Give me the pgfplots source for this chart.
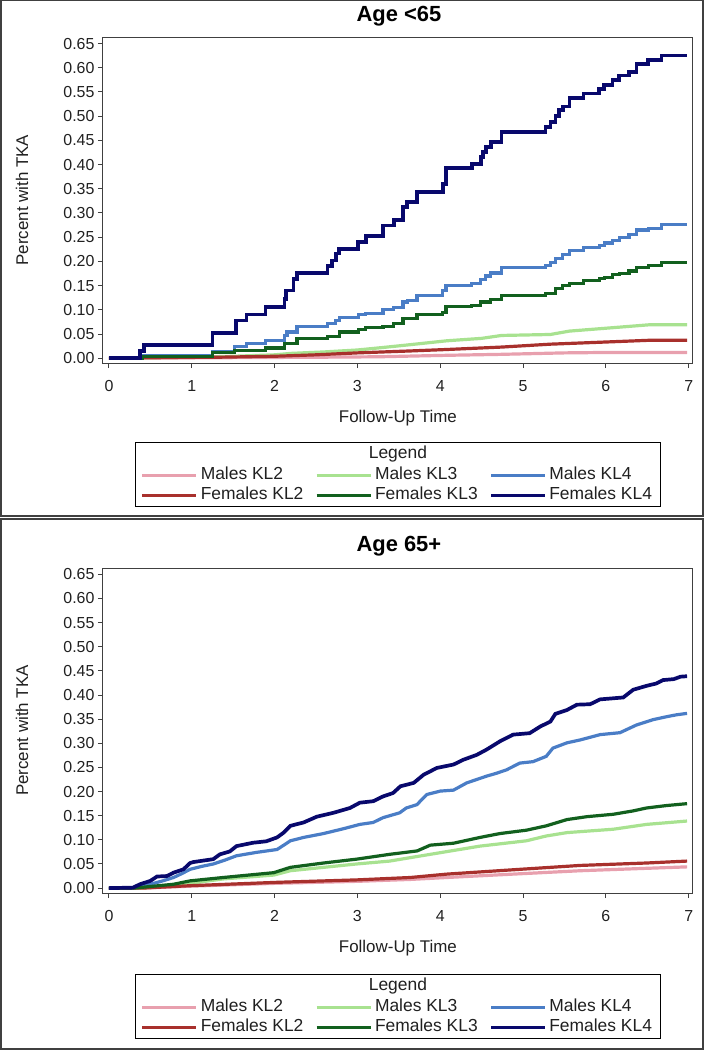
\documentclass[border=0pt]{standalone}
\usepackage{pgfplots}
\pgfplotsset{compat=1.18}
\usepackage{fontspec}
\setmainfont{Liberation Sans}
\definecolor{mkltwo}{HTML}{E8A0AE}
\definecolor{fkltwo}{HTML}{A8302C}
\definecolor{mklthree}{HTML}{A8E290}
\definecolor{fklthree}{HTML}{12601E}
\definecolor{mklfour}{HTML}{4A7DC6}
\definecolor{fklfour}{HTML}{08086C}
\definecolor{axgray}{HTML}{404040}
\definecolor{txtgray}{HTML}{202020}
\pgfplotsset{
  kl/.style={line width=3.2bp, line join=miter, line cap=butt},
  klb/.style={line width=3.7bp, line join=miter, line cap=butt},
  kmaxis/.style={
    scale only axis, width=590bp,
    xmin=-0.072, xmax=7.05, ymin=-0.0102, ymax=0.663,
    xtick={0,1,2,3,4,5,6,7},
    ytick={0,0.05,...,0.651},
    yticklabel style={/pgf/number format/fixed,/pgf/number format/fixed zerofill,/pgf/number format/precision=2},
    /pgf/number format/assume math mode=true,
    tick pos=left, tick align=outside,
    major tick length=5bp,
    every tick/.style={axgray, line width=1bp},
    axis line style={axgray, line width=1bp},
    ticklabel style={font=\fontsize{16}{19}\selectfont, text=txtgray},
    xticklabel style={yshift=-9bp},
    label style={font=\fontsize{17}{20}\selectfont, text=txtgray},
    xlabel={Follow-Up Time},
    ylabel={Percent with TKA},
    xlabel style={at={(axis description cs:0.5,-0.169)}, anchor=center},
    ylabel style={at={(axis description cs:-0.137,0.5)}, anchor=center, rotate=0},
    legend columns=3,
    legend cell align=left,
    legend image code/.code={\draw[##1, line width=2.6bp] (0bp,0bp) -- (54bp,0bp);},
    legend style={draw=none, fill=none, inner sep=0pt, anchor=north west,
      column sep=0bp,
      /tikz/every even column/.append style={column sep=9bp},
      nodes={inner xsep=3bp, inner ysep=0bp, text height=12.5bp, text depth=4.5bp, minimum height=20bp, font=\fontsize{17.5}{20}\selectfont, text=txtgray}},
  }
}
\begin{document}
\begin{tikzpicture}[x=1bp,y=1bp]
\path (0,0) rectangle (706,1050);
\draw[axgray, line width=1.5bp] (1,534) rectangle (703,1049.5);
\draw[axgray, line width=1.5bp] (1,1) rectangle (703,531);
% ---------- top panel ----------
\begin{axis}[kmaxis, at={(103bp,687bp)}, anchor=south west, height=326bp,
  legend style={at={(axis description cs:0.0644,-0.3128)}}]
\addplot[kl, mkltwo, sharp plot] coordinates {(0,0) (1.3,0.001) (2.5,0.002) (3.27,0.003) (4.08,0.006) (4.74,0.008) (5.5,0.011) (6.08,0.012) (6.98,0.012)};
\addplot[kl, mklthree, sharp plot] coordinates {(0,0) (0.5,0.001) (1.0,0.002) (1.5,0.004) (2.0,0.007) (2.2,0.010) (2.6,0.013) (3.0,0.017) (3.3,0.022) (3.64,0.028) (4.08,0.036) (4.5,0.041) (4.74,0.047) (5.33,0.049) (5.56,0.056) (6.08,0.063) (6.52,0.069) (6.98,0.069)};
\addplot[kl, mklfour, sharp plot] coordinates {(0,0) (0.41,0) (0.41,0.006) (1.25,0.006) (1.25,0.014) (1.52,0.014) (1.52,0.025) (1.66,0.025) (1.66,0.030) (1.89,0.030) (1.89,0.036) (2.12,0.036) (2.12,0.047) (2.15,0.047) (2.15,0.054) (2.27,0.054) (2.27,0.065) (2.64,0.065) (2.64,0.072) (2.74,0.072) (2.74,0.078) (2.78,0.078) (2.78,0.084) (3.01,0.084) (3.01,0.090) (3.10,0.090) (3.10,0.093) (3.31,0.093) (3.31,0.100) (3.44,0.100) (3.44,0.104) (3.55,0.104) (3.55,0.116) (3.60,0.116) (3.60,0.120) (3.72,0.120) (3.72,0.130) (4.03,0.130) (4.03,0.140) (4.07,0.140) (4.07,0.151) (4.38,0.151) (4.38,0.155) (4.49,0.155) (4.49,0.162) (4.55,0.162) (4.55,0.170) (4.61,0.170) (4.61,0.176) (4.74,0.176) (4.74,0.187) (5.27,0.187) (5.27,0.191) (5.33,0.191) (5.33,0.197) (5.39,0.197) (5.39,0.206) (5.48,0.206) (5.48,0.214) (5.56,0.214) (5.56,0.223) (5.73,0.223) (5.73,0.228) (5.92,0.228) (5.92,0.233) (5.98,0.233) (5.98,0.238) (6.08,0.238) (6.08,0.243) (6.16,0.243) (6.16,0.249) (6.28,0.249) (6.28,0.255) (6.37,0.255) (6.37,0.265) (6.51,0.265) (6.51,0.268) (6.67,0.268) (6.67,0.276) (6.98,0.276)};
\addplot[kl, fkltwo, sharp plot] coordinates {(0,0) (0.5,0.001) (1.3,0.002) (2.0,0.004) (2.5,0.007) (3.0,0.011) (3.64,0.015) (4.08,0.018) (4.74,0.023) (5.33,0.029) (6.08,0.034) (6.52,0.037) (6.98,0.037)};
\addplot[kl, fklthree, sharp plot] coordinates {(0,0) (0.41,0) (0.41,0.004) (1.25,0.004) (1.25,0.011) (1.52,0.011) (1.52,0.016) (1.89,0.016) (1.89,0.021) (2.12,0.021) (2.12,0.030) (2.27,0.030) (2.27,0.040) (2.64,0.040) (2.64,0.045) (2.78,0.045) (2.78,0.054) (3.01,0.054) (3.01,0.060) (3.10,0.060) (3.10,0.063) (3.31,0.063) (3.31,0.066) (3.44,0.066) (3.44,0.072) (3.55,0.072) (3.55,0.082) (3.72,0.082) (3.72,0.091) (4.03,0.091) (4.03,0.094) (4.07,0.094) (4.07,0.106) (4.38,0.106) (4.38,0.109) (4.49,0.109) (4.49,0.116) (4.61,0.116) (4.61,0.122) (4.74,0.122) (4.74,0.130) (5.27,0.130) (5.27,0.133) (5.39,0.133) (5.39,0.144) (5.48,0.144) (5.48,0.150) (5.56,0.150) (5.56,0.154) (5.73,0.154) (5.73,0.161) (5.92,0.161) (5.92,0.164) (5.98,0.164) (5.98,0.167) (6.08,0.167) (6.08,0.173) (6.16,0.173) (6.16,0.175) (6.28,0.175) (6.28,0.180) (6.37,0.180) (6.37,0.188) (6.51,0.188) (6.51,0.191) (6.67,0.191) (6.67,0.197) (6.98,0.197)};
\addplot[klb, fklfour, sharp plot] coordinates {(0,0) (0.375,0) (0.375,0.015) (0.42,0.015) (0.42,0.027) (1.25,0.027) (1.25,0.052) (1.53,0.052) (1.53,0.078) (1.66,0.078) (1.66,0.090) (1.89,0.090) (1.89,0.106) (2.12,0.106) (2.12,0.123) (2.14,0.123) (2.14,0.140) (2.23,0.140) (2.23,0.164) (2.27,0.164) (2.27,0.176) (2.64,0.176) (2.64,0.190) (2.69,0.190) (2.69,0.202) (2.74,0.202) (2.74,0.216) (2.78,0.216) (2.78,0.226) (3.01,0.226) (3.01,0.240) (3.10,0.240) (3.10,0.252) (3.31,0.252) (3.31,0.274) (3.44,0.274) (3.44,0.286) (3.55,0.286) (3.55,0.312) (3.60,0.312) (3.60,0.322) (3.72,0.322) (3.72,0.343) (4.03,0.343) (4.03,0.360) (4.07,0.360) (4.07,0.393) (4.38,0.393) (4.38,0.401) (4.49,0.401) (4.49,0.415) (4.52,0.415) (4.52,0.426) (4.55,0.426) (4.55,0.436) (4.61,0.436) (4.61,0.446) (4.74,0.446) (4.74,0.467) (5.27,0.467) (5.27,0.477) (5.33,0.477) (5.33,0.488) (5.39,0.488) (5.39,0.501) (5.43,0.501) (5.43,0.512) (5.48,0.512) (5.48,0.520) (5.56,0.520) (5.56,0.538) (5.73,0.538) (5.73,0.547) (5.92,0.547) (5.92,0.556) (5.98,0.556) (5.98,0.565) (6.08,0.565) (6.08,0.575) (6.16,0.575) (6.16,0.584) (6.28,0.584) (6.28,0.591) (6.37,0.591) (6.37,0.608) (6.51,0.608) (6.51,0.616) (6.67,0.616) (6.67,0.625) (6.98,0.625)};
\legend{Males KL2, Males KL3, Males KL4, Females KL2, Females KL3, Females KL4}
\end{axis}
\node[font=\bfseries\fontsize{22}{26}\selectfont, text=black] at (399,1034) {Age <65};
\draw[black, line width=1bp] (136,544) rectangle (661,608);
\node[font=\fontsize{17.5}{20}\selectfont, text=txtgray] at (398,596) {Legend};
% ---------- bottom panel ----------
\begin{axis}[kmaxis, at={(103bp,157bp)}, anchor=south west, height=325bp,
  legend style={at={(axis description cs:0.0644,-0.3200)}}]
\addplot[kl, mkltwo, sharp plot] coordinates {(0,0) (0.4,0) (0.98,0.004) (2.03,0.010) (2.99,0.014) (3.64,0.018) (4.08,0.022) (4.88,0.029) (5.69,0.036) (6.49,0.041) (6.98,0.044)};
\addplot[kl, mklthree, sharp plot] coordinates {(0,0) (0.4,0) (0.98,0.010) (1.38,0.019) (1.99,0.027) (2.19,0.036) (2.59,0.043) (2.99,0.050) (3.39,0.056) (3.88,0.070) (4.48,0.087) (5.04,0.098) (5.28,0.108) (5.53,0.115) (6.09,0.122) (6.49,0.132) (6.98,0.139)};
\addplot[kl, mklfour, sharp plot] coordinates {(0,0) (0.29,0.001) (0.40,0.004) (0.50,0.008) (0.65,0.015) (0.78,0.022) (0.88,0.030) (0.98,0.039) (1.12,0.045) (1.26,0.050) (1.40,0.058) (1.54,0.067) (1.78,0.074) (2.03,0.080) (2.12,0.090) (2.19,0.098) (2.35,0.105) (2.59,0.113) (2.83,0.123) (3.03,0.132) (3.19,0.136) (3.31,0.146) (3.51,0.156) (3.59,0.166) (3.72,0.173) (3.78,0.184) (3.84,0.194) (4.00,0.201) (4.16,0.203) (4.32,0.218) (4.44,0.225) (4.56,0.232) (4.68,0.238) (4.80,0.245) (4.96,0.259) (5.12,0.262) (5.28,0.273) (5.36,0.290) (5.53,0.301) (5.69,0.307) (5.93,0.318) (6.17,0.322) (6.37,0.338) (6.57,0.349) (6.73,0.355) (6.85,0.359) (6.98,0.362)};
\addplot[kl, fkltwo, sharp plot] coordinates {(0,0) (0.4,0) (0.98,0.005) (2.03,0.012) (2.99,0.017) (3.64,0.022) (4.08,0.029) (4.88,0.038) (5.69,0.047) (6.49,0.052) (6.98,0.056)};
\addplot[kl, fklthree, sharp plot] coordinates {(0,0) (0.3,0) (0.78,0.008) (0.98,0.015) (1.38,0.022) (1.99,0.032) (2.19,0.043) (2.59,0.052) (2.99,0.060) (3.39,0.070) (3.72,0.077) (3.88,0.089) (4.16,0.093) (4.48,0.105) (4.72,0.113) (5.04,0.120) (5.28,0.129) (5.53,0.142) (5.77,0.148) (6.09,0.153) (6.33,0.160) (6.49,0.166) (6.73,0.171) (6.98,0.175)};
\addplot[klb, fklfour, sharp plot] coordinates {(0,0) (0.29,0.001) (0.375,0.008) (0.50,0.015) (0.58,0.024) (0.70,0.025) (0.78,0.032) (0.90,0.039) (0.98,0.052) (1.02,0.054) (1.26,0.060) (1.34,0.070) (1.46,0.076) (1.54,0.087) (1.74,0.094) (1.90,0.097) (2.03,0.105) (2.11,0.115) (2.19,0.129) (2.35,0.136) (2.51,0.148) (2.71,0.156) (2.91,0.166) (3.03,0.177) (3.19,0.180) (3.31,0.190) (3.43,0.197) (3.52,0.211) (3.68,0.218) (3.80,0.235) (3.96,0.249) (4.16,0.256) (4.28,0.266) (4.44,0.276) (4.56,0.287) (4.72,0.304) (4.88,0.318) (5.08,0.321) (5.21,0.335) (5.33,0.345) (5.39,0.361) (5.53,0.369) (5.65,0.380) (5.81,0.381) (5.93,0.391) (6.21,0.395) (6.33,0.411) (6.49,0.419) (6.61,0.424) (6.69,0.431) (6.82,0.433) (6.90,0.438) (6.98,0.439)};
\legend{Males KL2, Males KL3, Males KL4, Females KL2, Females KL3, Females KL4}
\end{axis}
\node[font=\bfseries\fontsize{22}{26}\selectfont, text=black] at (399,504) {Age 65+};
\draw[black, line width=1bp] (136,12) rectangle (661,76);
\node[font=\fontsize{17.5}{20}\selectfont, text=txtgray] at (398,64) {Legend};
\end{tikzpicture}
\end{document}
